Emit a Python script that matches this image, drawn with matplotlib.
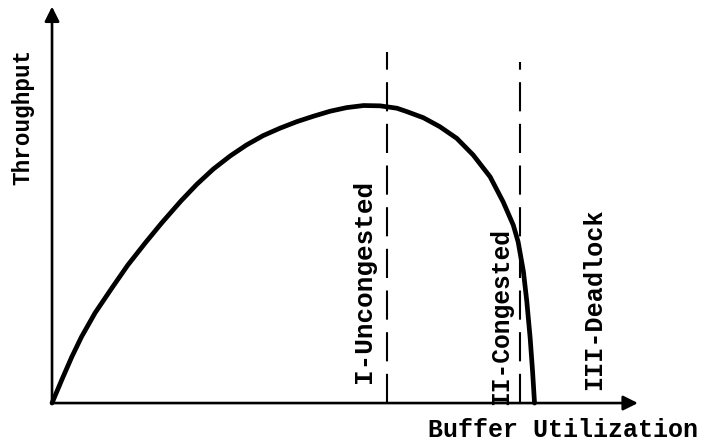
import matplotlib
matplotlib.use("Agg")
import matplotlib.pyplot as plt

# throughput vs buffer utilization (peak throughput = 1)
buffer_util = [0.0, 0.020, 0.041, 0.061, 0.089, 0.124, 0.157, 0.193, 0.227,
               0.267, 0.300, 0.334, 0.369, 0.403, 0.437, 0.472, 0.507, 0.541,
               0.576, 0.610, 0.645, 0.679, 0.714, 0.734, 0.769, 0.803, 0.838,
               0.872, 0.907, 0.934, 0.955, 0.965, 0.976, 0.983, 0.990, 0.995,
               0.999]
throughput = [0.0, 0.077, 0.155, 0.222, 0.302, 0.386, 0.463, 0.537, 0.604,
              0.678, 0.734, 0.785, 0.829, 0.866, 0.897, 0.922, 0.944, 0.962,
              0.979, 0.991, 0.998, 0.997, 0.989, 0.978, 0.957, 0.927, 0.888,
              0.832, 0.759, 0.675, 0.597, 0.541, 0.441, 0.341, 0.217, 0.105,
              0.0]

# region boundaries (dashed) and their top ends
bounds = [0.693, 0.969]
bound_tops = [1.178, 1.144]

# region labels: name, x centre, bottom
regions = ["I-Uncongested", "II-Congested", "III-Deadlock"]
region_x = [0.646, 0.930, 1.122]
region_y = [0.067, -0.007, 0.044]
region_size = [18.7, 17.7, 18.1]

x_end = 1.213
y_end = 1.33

fig = plt.figure(figsize=(7.03, 4.43), dpi=100)
ax = fig.add_axes([0, 0, 1, 1])
ax.set_xlim(-0.1077, 1.3478)
ax.set_ylim(-0.134, 1.352)
ax.axis("off")

mono = "Liberation Mono"

#axes with arrow heads
arrow = dict(arrowstyle="-|>", lw=1.9, color="black", mutation_scale=22,
             shrinkA=0, shrinkB=0)
ax.annotate("", xy=(x_end, 0), xytext=(0, 0), arrowprops=arrow)
ax.annotate("", xy=(0, y_end), xytext=(0, 0), arrowprops=arrow)

#the curve
ax.plot(buffer_util, throughput, color="black", lw=3.4,
        solid_capstyle="round", solid_joinstyle="round")

#dashed region boundaries
for b, top in zip(bounds, bound_tops):
    ax.plot([b, b], [0, top], color="black", lw=1.5, dashes=(14, 6))

for name, x, y, fs in zip(regions, region_x, region_y, region_size):
    ax.text(x, y, name, rotation=90, ha="center", va="bottom",
            family=mono, fontsize=fs, fontweight="bold")

ax.text(-0.060, 0.732, "Throughput", rotation=90, ha="center", va="bottom",
        family=mono, fontsize=16.3, fontweight="bold")
ax.text(1.058, -0.114, "Buffer Utilization", ha="center", va="baseline",
        family=mono, fontsize=18, fontweight="bold")

fig.savefig("out.png", dpi=100)
